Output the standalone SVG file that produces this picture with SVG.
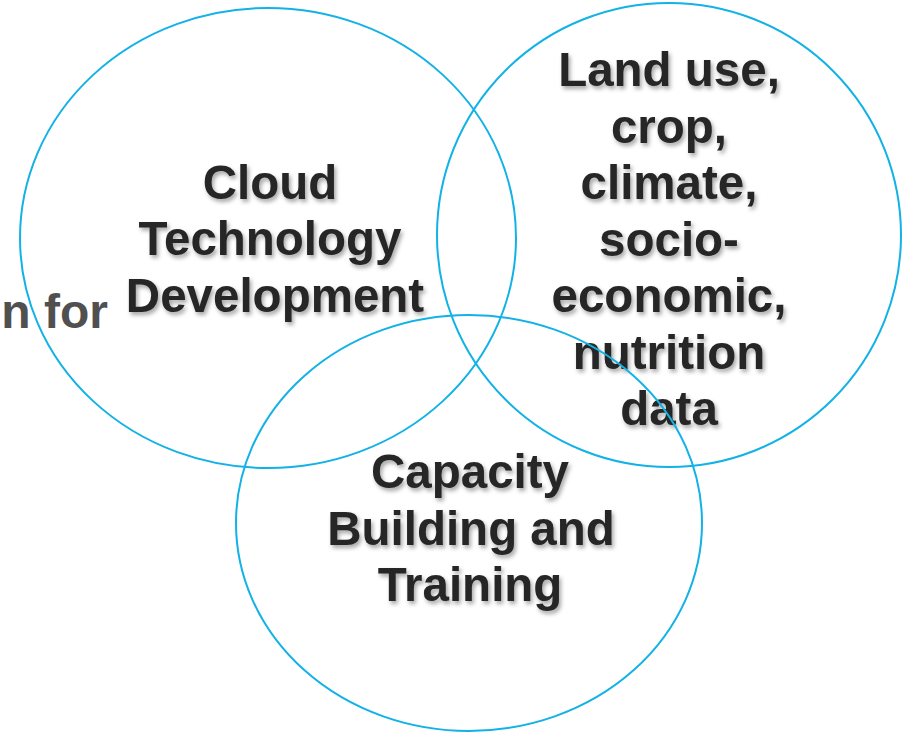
<svg xmlns="http://www.w3.org/2000/svg" width="905" height="732" viewBox="0 0 905 732">
<defs>
<filter id="sh" x="-10%" y="-10%" width="130%" height="140%">
<feDropShadow dx="2" dy="3" stdDeviation="2" flood-color="#000" flood-opacity="0.35"/>
</filter>
</defs>
<style>
.c{fill:none;stroke:#12b2e6;stroke-width:2}
.t{font-family:"Liberation Sans",Arial,sans-serif;font-weight:bold;font-size:47.5px;fill:#262626;text-anchor:middle}
.g{font-family:"Liberation Sans",Arial,sans-serif;font-weight:bold;font-size:48px;fill:#505050;text-anchor:end}
</style>
<rect width="905" height="732" fill="#fff"/>
<text class="g" x="108" y="328">n for</text>
<g id="cloud">
<ellipse class="c" cx="268" cy="238" rx="248" ry="230"/>
<text class="t" filter="url(#sh)"><tspan x="270" y="199">Cloud</tspan><tspan x="270" y="255">Technology</tspan><tspan x="275" y="312">Development</tspan></text>
</g>
<g id="data">
<ellipse class="c" cx="669" cy="235" rx="232" ry="232"/>
<text class="t" filter="url(#sh)"><tspan x="669" y="86">Land use,</tspan><tspan x="669" y="143">crop,</tspan><tspan x="669" y="199">climate,</tspan><tspan x="669" y="256">socio-</tspan><tspan x="669" y="312">economic,</tspan><tspan x="669" y="369">nutrition</tspan><tspan x="669" y="425">data</tspan></text>
</g>
<g id="capacity">
<ellipse class="c" cx="469" cy="523" rx="233" ry="208"/>
<text class="t" filter="url(#sh)"><tspan x="470" y="488">Capacity</tspan><tspan x="471" y="545">Building and</tspan><tspan x="470" y="601">Training</tspan></text>
</g>
</svg>
